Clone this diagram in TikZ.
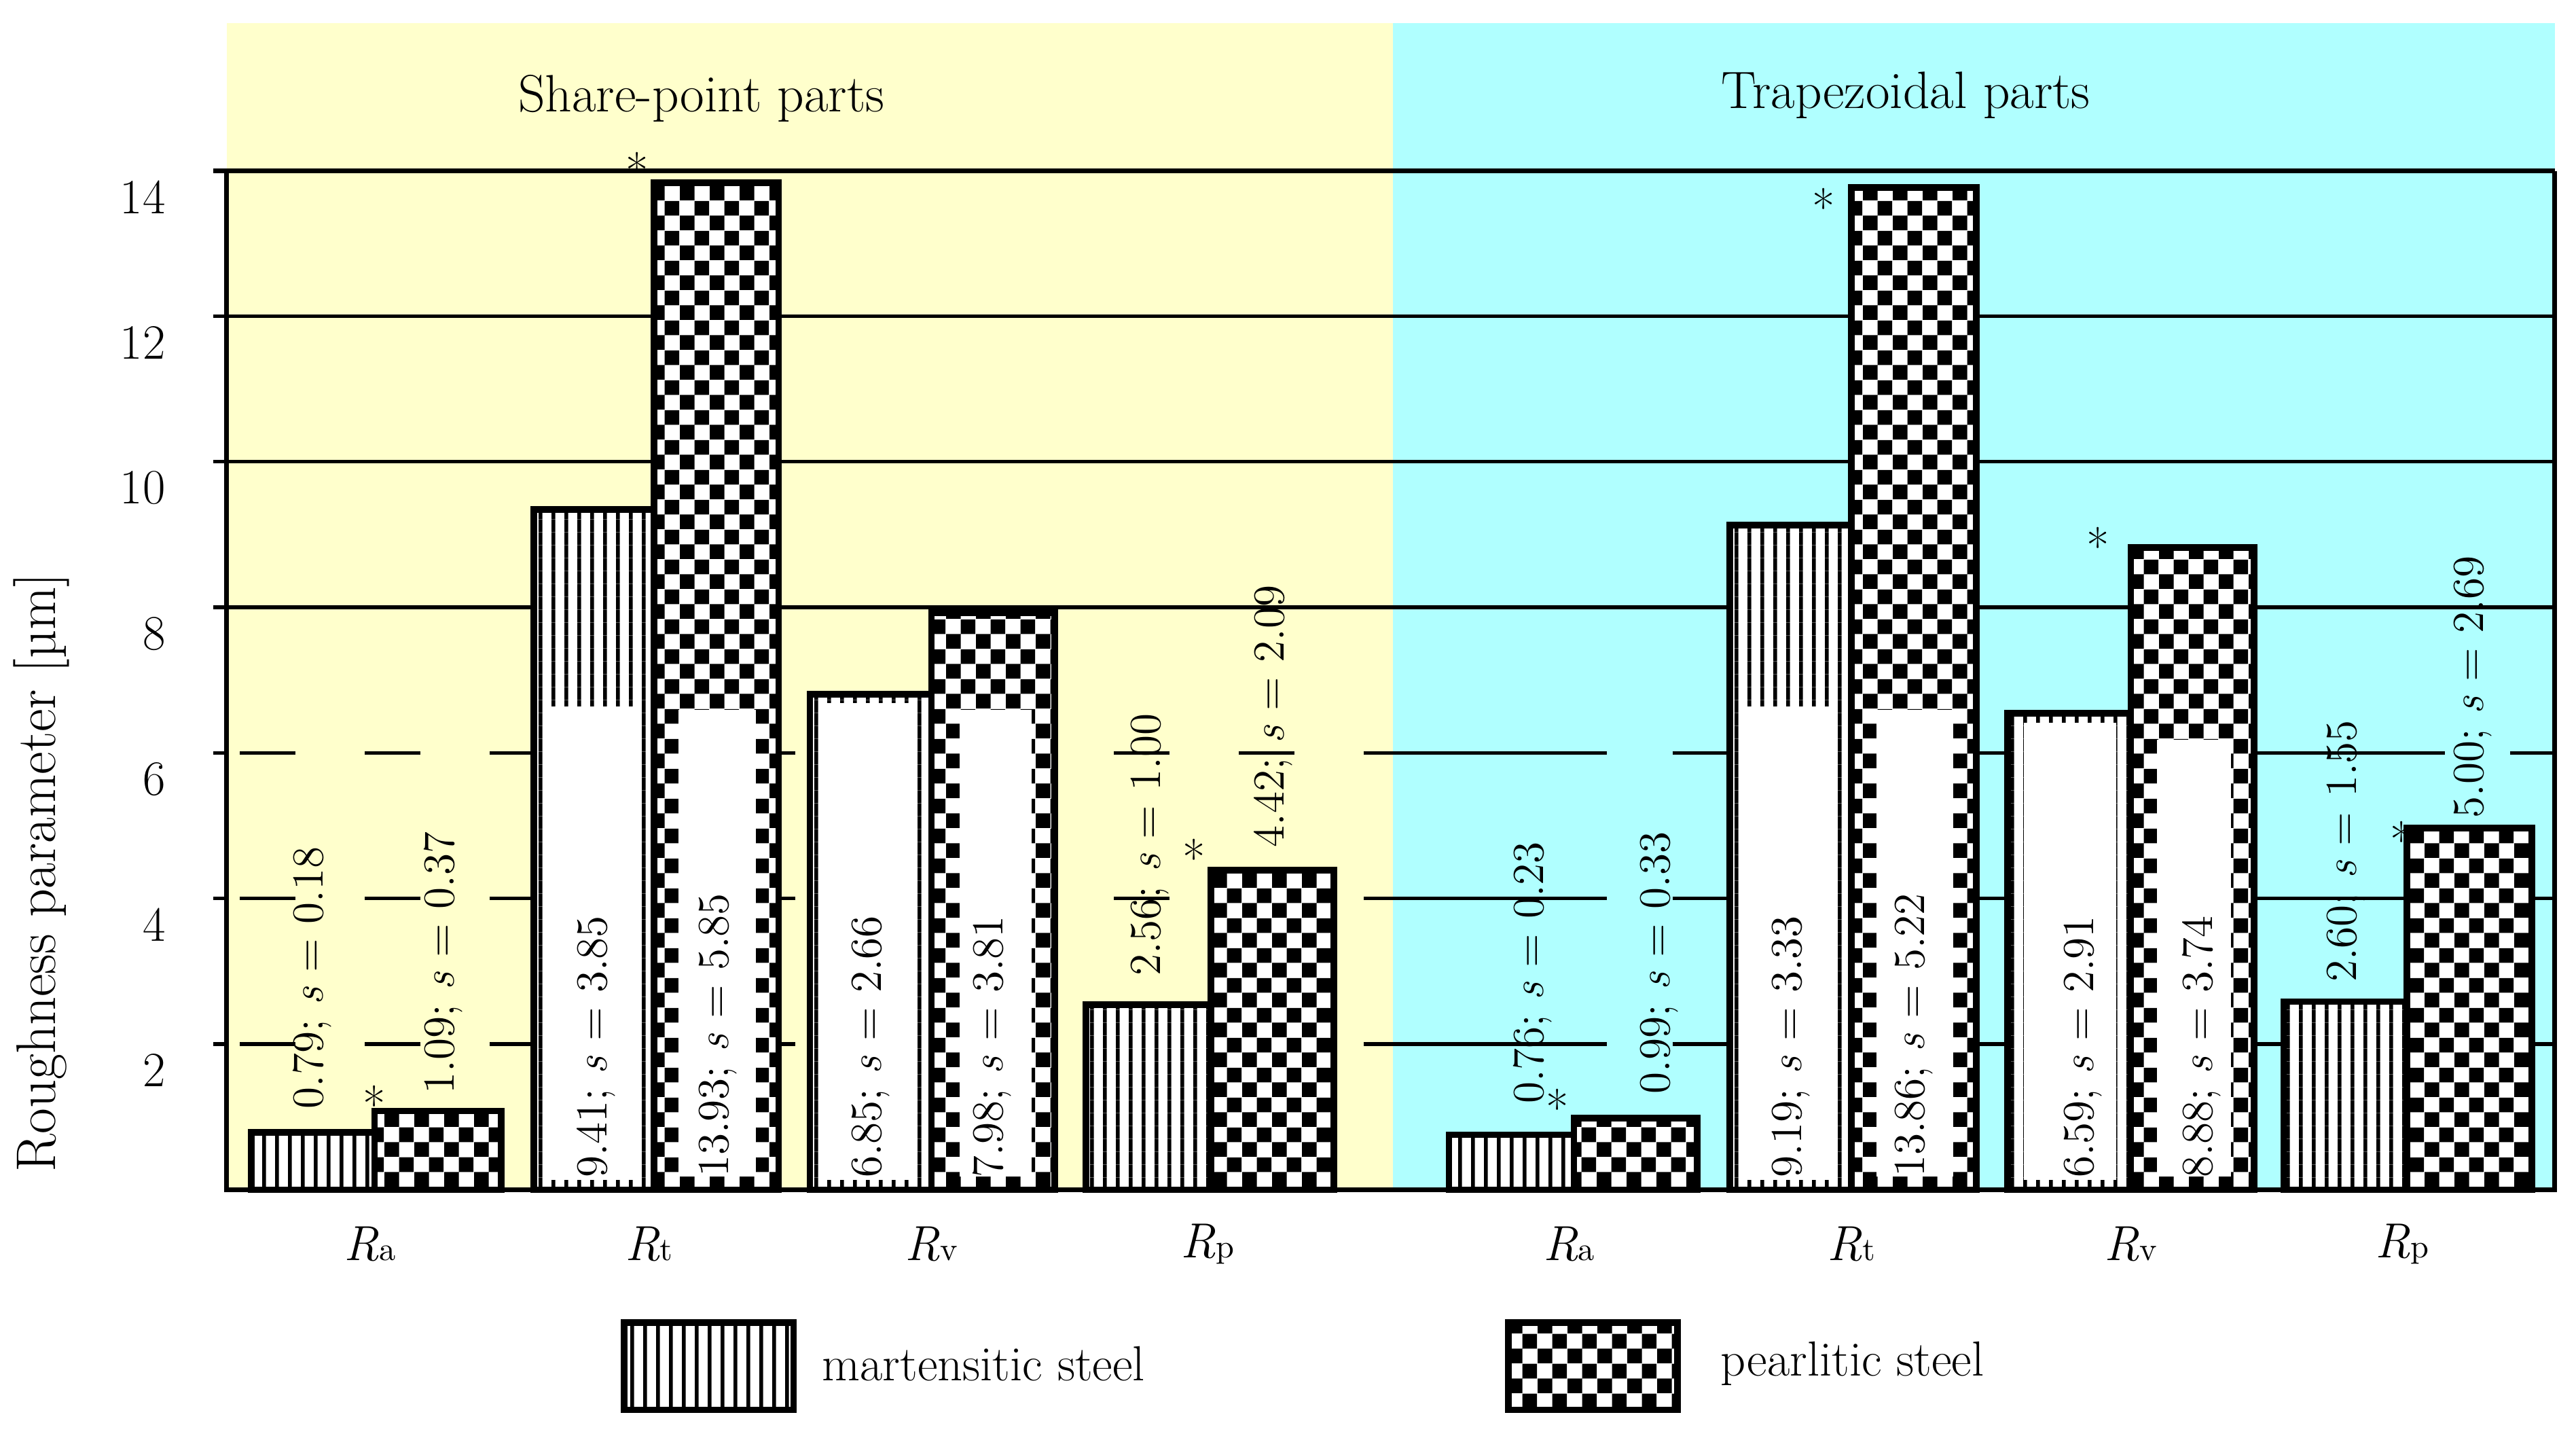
\documentclass[tikz,border=0pt]{standalone}
\usetikzlibrary{patterns.meta}
\pgfdeclarepattern{name=chk,type=uncolored,bottom left={\pgfpointorigin},top right={\pgfpoint{9pt}{9pt}},tile size={\pgfpoint{9pt}{9pt}},code={\pgfpathrectangle{\pgfpointorigin}{\pgfpoint{4.5pt}{4.5pt}}\pgfpathrectangle{\pgfpoint{4.5pt}{4.5pt}}{\pgfpoint{4.5pt}{4.5pt}}\pgfusepath{fill}}}
\pgfdeclarepattern{name=vln,type=uncolored,bottom left={\pgfpointorigin},top right={\pgfpoint{4pt}{4pt}},tile size={\pgfpoint{4pt}{4pt}},code={\pgfpathrectangle{\pgfpointorigin}{\pgfpoint{1.2pt}{4pt}}\pgfusepath{fill}}}
\definecolor{ybg}{HTML}{FFFFCC}
\definecolor{cbg}{HTML}{B0FFFF}
\newcommand\myY[1]{724-44.3*#1}
\newcommand\myB[1]{724-44.0*#1}
\newcommand\mbar[4]{%
  \fill[white] (#1,724) rectangle (#2,{\myB{#3}});
  \fill[pattern=vln,pattern color=black] (#1,724) rectangle (#2,{\myB{#3}});
  \draw[barline] (#1,724) rectangle (#2,{\myB{#3}});}
\newcommand\pbar[4]{%
  \fill[white] (#1,724) rectangle (#2,{\myB{#3}});
  \fill[pattern=chk,pattern color=black] (#1,724) rectangle (#2,{\myB{#3}});
  \draw[barline] (#1,724) rectangle (#2,{\myB{#3}});}
\begin{document}
\begin{tikzpicture}[x=0.5pt,y=-0.5pt,
  barline/.style={line width=2pt},
  grid/.style={line width=1.1pt},
  lab/.style={font=\fontsize{15}{17}\selectfont,inner sep=0pt},
  vlab/.style={font=\fontsize{13.5}{15}\selectfont,inner sep=0pt,rotate=90},
  innerbox/.style={fill=white,draw=none}]
\useasboundingbox (0,0) rectangle (1568,884);
\fill[ybg] (138,14) rectangle (848,724);
\fill[cbg] (848,14) rectangle (1555,724);
% grid
\foreach \v in {8,10,12}{\draw[grid] (130,{\myY{\v}}) -- (1555,{\myY{\v}});}
\foreach \v in {2,4,6}{
  \draw[grid] (130,{\myY{\v}}) -- (138,{\myY{\v}});
  \draw[grid,dash pattern=on 17pt off 21pt,dash phase=-4pt] (138,{\myY{\v}}) -- (848,{\myY{\v}});
  \draw[grid,dash pattern=on 65pt off 20pt] (848,{\myY{\v}}) -- (1555,{\myY{\v}});}
\draw[line width=1.5pt] (130,104) -- (1555,104);
\draw[line width=1.5pt] (138,104) -- (138,724) -- (1555,724) -- (1555,104);
% tick labels
\foreach \v in {2,4,...,14}{\node[lab,anchor=east] (t\v) at (101,{\myY{\v}+16}) {\v};}
\node[font=\fontsize{17}{19}\selectfont,inner sep=0pt,rotate=90] (ytitle) at (25,531) {Roughness parameter [\textmu m]};
\node[font=\fontsize{16}{18}\selectfont,inner sep=0pt] (tl) at (427,60) {Share-point parts};
\node[font=\fontsize{16}{18}\selectfont,inner sep=0pt] (tr) at (1160,58) {Trapezoidal parts};
% bars
\mbar{153}{228}{0.79}{a}\pbar{228}{305}{1.09}{b}
\mbar{325}{398}{9.41}{c}\pbar{398}{474}{13.93}{d}
\mbar{493}{567}{6.85}{e}\pbar{567}{642}{7.98}{f}
\mbar{661}{737}{2.56}{g}\pbar{737}{812}{4.42}{h}
\mbar{882}{958}{0.76}{i}\pbar{958}{1033}{0.99}{j}
\mbar{1053}{1127}{9.19}{k}\pbar{1127}{1203}{13.86}{l}
\mbar{1222}{1297}{6.59}{m}\pbar{1297}{1372}{8.88}{n}
\mbar{1390}{1465}{2.60}{o}\pbar{1465}{1541}{5.00}{p}
% inner white boxes
\fill[innerbox] (335,430) rectangle (389,718);
\fill[innerbox] (413,432) rectangle (460,716);
\fill[innerbox] (502,428) rectangle (558,718);
\fill[innerbox] (584,432) rectangle (628,716);
\fill[innerbox] (1063,430) rectangle (1117,718);
\fill[innerbox] (1142,432) rectangle (1189,716);
\fill[innerbox] (1232,440) rectangle (1288,718);
\fill[innerbox] (1313,450) rectangle (1358,716);
% value labels
\node[vlab] (la) at (190,595) {0.79; \textit{s} = 0.18};
\node[vlab] (lb) at (270,586) {1.09; \textit{s} = 0.37};
\node[vlab] (lc) at (363,637) {9.41; \textit{s} = 3.85};
\node[vlab] (ld) at (437,630) {13.93; \textit{s} = 5.85};
\node[vlab] (le) at (530,637) {6.85; \textit{s} = 2.66};
\node[vlab] (lf) at (604,637) {7.98; \textit{s} = 3.81};
\node[vlab] (lg) at (700,514) {2.56; \textit{s} = 1.00};
\node[vlab] (lh) at (775,436) {4.42; \textit{s} = 2.09};
\node[vlab] (li) at (933,592) {0.76; \textit{s} = 0.23};
\node[vlab] (lj) at (1010,586) {0.99; \textit{s} = 0.33};
\node[vlab] (lk) at (1090,637) {9.19; \textit{s} = 3.33};
\node[vlab] (ll) at (1165,630) {13.86; \textit{s} = 5.22};
\node[vlab] (lm) at (1268,637) {6.59; \textit{s} = 2.91};
\node[vlab] (ln) at (1340,637) {8.88; \textit{s} = 3.74};
\node[vlab] (lo) at (1428,518) {2.60; \textit{s} = 1.55};
\node[vlab] (lp) at (1505,418) {5.00; \textit{s} = 2.69};
% stars
\foreach \x/\y [count=\i] in {228/672,388/104,727/522,948/674,1110/126,1277/332,1462/511}{\node[lab] (s\i) at (\x,\y) {*};}
% category labels
\foreach \x/\s [count=\i] in {225/a,395/t,567/v,735/p,955/a,1127/t,1297/v,1462/p}{\node[lab] (c\i) at (\x,757) {\textit{R}{\fontsize{10}{11}\selectfont\s}};}
% legend
\fill[white] (380,805) rectangle (483,858);
\fill[pattern=vln,pattern color=black] (380,805) rectangle (483,858);
\draw[barline] (380,805) rectangle (483,858);
\node[lab,anchor=west] (lm1) at (500,830) {martensitic steel};
\fill[white] (918,805) rectangle (1021,858);
\fill[pattern=chk,pattern color=black] (918,805) rectangle (1021,858);
\draw[barline] (918,805) rectangle (1021,858);
\node[lab,anchor=west] (lp1) at (1047,830) {pearlitic steel};
\end{tikzpicture}
\end{document}
